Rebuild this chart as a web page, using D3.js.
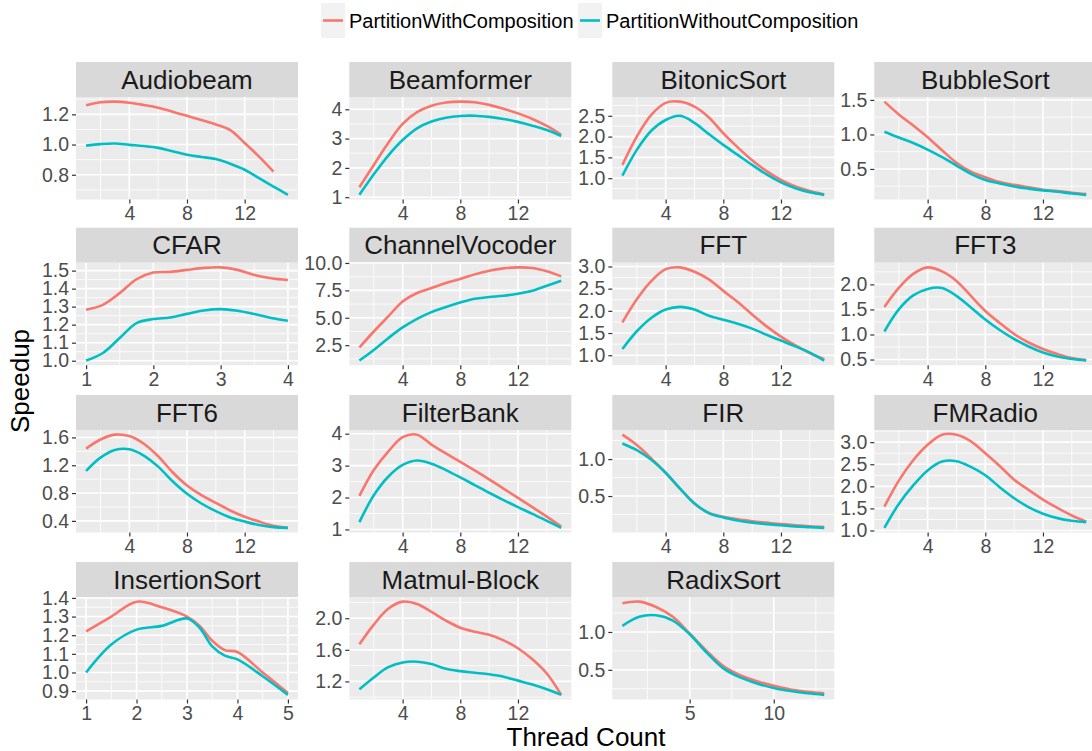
<!DOCTYPE html>
<html><head><meta charset="utf-8">
<script src="https://cdn.jsdelivr.net/npm/d3@7"></script>
<style>body{margin:0;background:#fff} text{font-family:"Liberation Sans",Arial,sans-serif}</style>
</head><body><svg id="c" width="1092" height="751"></svg>
<script>
// ---------- data ----------
const seriesNames = ["PartitionWithComposition", "PartitionWithoutComposition"];
const seriesColors = ["#F8766D", "#00BFC4"];

const t15 = [1,2,3,4,5,6,7,8,9,10,11,12,13,14,15];
const t13 = [1,2,3,4,5,6,7,8,9,10,11,12,13];
const tCFAR = [1,1.25,1.5,1.75,2,2.25,2.5,2.75,3,3.25,3.5,3.75,4];
const tInsertion = [1,1.5,2,2.5,3,3.25,3.5,3.75,4,4.5,5];

const xTicks15 = [4,8,12];
const xTicksCFAR = [1,2,3,4];
const xTicksInsertion = [1,2,3,4,5];
const xTicksRadix = [5,10];

const audiobeamWith    = [1.26,1.28,1.284,1.277,1.262,1.244,1.218,1.19,1.162,1.133,1.095,1.01,0.92,0.82];
const audiobeamWithout = [0.993,1.003,1.007,0.998,0.99,0.978,0.955,0.933,0.918,0.904,0.873,0.833,0.777,0.722,0.667];
const audiobeamYTicks  = [0.8,1.0,1.2];

const beamformerWith    = [1.34,2.1,2.85,3.5,3.9,4.12,4.23,4.26,4.24,4.15,4.02,3.86,3.67,3.43,3.13];
const beamformerWithout = [1.08,1.78,2.42,2.95,3.35,3.58,3.71,3.77,3.78,3.74,3.67,3.57,3.44,3.29,3.09];
const beamformerYTicks  = [1,2,3,4];

const bitonicWith    = [1.32,2.0,2.52,2.81,2.84,2.72,2.46,2.08,1.74,1.43,1.17,0.96,0.8,0.69,0.61];
const bitonicWithout = [1.06,1.68,2.14,2.4,2.5,2.33,2.06,1.8,1.56,1.32,1.09,0.9,0.76,0.66,0.6];
const bitonicYTicks  = [1.0,1.5,2.0,2.5];

const bubbleWith    = [1.475,1.29,1.13,0.96,0.77,0.59,0.46,0.38,0.31,0.27,0.235,0.2,0.18,0.155,0.135];
const bubbleWithout = [1.04,0.955,0.875,0.78,0.67,0.55,0.43,0.34,0.29,0.245,0.215,0.19,0.17,0.145,0.125];
const bubbleYTicks  = [0.5,1.0,1.5];

const cfarWith    = [1.283,1.31,1.375,1.452,1.489,1.493,1.504,1.515,1.518,1.504,1.476,1.458,1.448];
const cfarWithout = [1.001,1.043,1.126,1.209,1.231,1.24,1.26,1.279,1.286,1.277,1.259,1.237,1.222];
const cfarYTicks  = [1.0,1.1,1.2,1.3,1.4,1.5];

const vocoderWith    = [2.29,3.75,5.12,6.49,7.26,7.71,8.17,8.54,8.96,9.3,9.51,9.6,9.54,9.24,8.78];
const vocoderWithout = [1.1,2.07,3.14,4.12,4.91,5.52,5.98,6.4,6.74,6.89,7.01,7.2,7.47,7.93,8.38];
const vocoderYTicks  = [2.5,5.0,7.5,10.0];

const fftWith    = [1.74,2.26,2.67,2.94,2.98,2.88,2.71,2.45,2.2,1.92,1.65,1.42,1.22,1.05,0.91];
const fftWithout = [1.14,1.54,1.84,2.03,2.09,2.03,1.89,1.8,1.71,1.6,1.46,1.33,1.2,1.06,0.88];
const fftYTicks  = [1.0,1.5,2.0,2.5,3.0];

const fft3With    = [1.55,1.93,2.21,2.34,2.26,2.07,1.77,1.47,1.23,1.01,0.84,0.71,0.61,0.53,0.49];
const fft3Without = [1.06,1.5,1.78,1.91,1.93,1.77,1.54,1.3,1.09,0.91,0.76,0.64,0.56,0.51,0.48];
const fft3YTicks  = [0.5,1.0,1.5,2.0];

const fft6With    = [1.44,1.57,1.64,1.62,1.51,1.33,1.1,0.91,0.77,0.66,0.55,0.46,0.39,0.33,0.3];
const fft6Without = [1.12,1.31,1.42,1.43,1.34,1.18,0.97,0.79,0.65,0.54,0.45,0.39,0.34,0.31,0.3];
const fft6YTicks  = [0.4,0.8,1.2,1.6];

const filterbankWith    = [2.05,2.86,3.44,3.89,3.97,3.66,3.38,3.12,2.85,2.57,2.28,1.99,1.7,1.4,1.09];
const filterbankWithout = [1.23,2.07,2.65,3.02,3.16,3.06,2.86,2.63,2.39,2.15,1.92,1.7,1.49,1.27,1.05];
const filterbankYTicks  = [1,2,3,4];

const firWith    = [1.33,1.19,1.01,0.815,0.6,0.4,0.27,0.22,0.185,0.16,0.14,0.12,0.105,0.09,0.08];
const firWithout = [1.21,1.12,0.99,0.815,0.6,0.4,0.27,0.21,0.17,0.14,0.12,0.105,0.09,0.08,0.07];
const firYTicks  = [0.5,1.0];

const fmradioWith    = [1.54,2.13,2.59,2.94,3.17,3.17,3.02,2.75,2.46,2.15,1.92,1.7,1.51,1.34,1.2];
const fmradioWithout = [1.06,1.6,2.02,2.36,2.56,2.57,2.44,2.25,1.98,1.73,1.53,1.38,1.28,1.22,1.19];
const fmradioYTicks  = [1.0,1.5,2.0,2.5,3.0];

const insertionWith    = [1.22,1.30,1.38,1.35,1.30,1.25,1.17,1.12,1.11,1.00,0.89];
const insertionWithout = [1.00,1.15,1.23,1.25,1.29,1.24,1.14,1.09,1.07,0.98,0.88];
const insertionYTicks  = [0.9,1.0,1.1,1.2,1.3,1.4];

const matmulWith    = [1.67,1.92,2.12,2.21,2.18,2.08,1.97,1.88,1.83,1.79,1.72,1.62,1.48,1.30,1.03];
const matmulWithout = [1.10,1.25,1.38,1.44,1.45,1.42,1.36,1.33,1.31,1.29,1.26,1.21,1.16,1.10,1.03];
const matmulYTicks  = [1.2,1.6,2.0];

const radixWith    = [1.38,1.40,1.33,1.20,0.98,0.75,0.55,0.43,0.35,0.29,0.24,0.21,0.19];
const radixWithout = [1.08,1.20,1.22,1.15,0.97,0.73,0.52,0.40,0.32,0.26,0.22,0.19,0.17];
const radixYTicks  = [0.5,1.0];

const panels = [
  {name:"Audiobeam", x:t15, s:[audiobeamWith,audiobeamWithout], yt:audiobeamYTicks, xt:xTicks15},
  {name:"Beamformer", x:t15, s:[beamformerWith,beamformerWithout], yt:beamformerYTicks, xt:xTicks15},
  {name:"BitonicSort", x:t15, s:[bitonicWith,bitonicWithout], yt:bitonicYTicks, xt:xTicks15},
  {name:"BubbleSort", x:t15, s:[bubbleWith,bubbleWithout], yt:bubbleYTicks, xt:xTicks15},
  {name:"CFAR", x:tCFAR, s:[cfarWith,cfarWithout], yt:cfarYTicks, xt:xTicksCFAR},
  {name:"ChannelVocoder", x:t15, s:[vocoderWith,vocoderWithout], yt:vocoderYTicks, xt:xTicks15},
  {name:"FFT", x:t15, s:[fftWith,fftWithout], yt:fftYTicks, xt:xTicks15},
  {name:"FFT3", x:t15, s:[fft3With,fft3Without], yt:fft3YTicks, xt:xTicks15},
  {name:"FFT6", x:t15, s:[fft6With,fft6Without], yt:fft6YTicks, xt:xTicks15},
  {name:"FilterBank", x:t15, s:[filterbankWith,filterbankWithout], yt:filterbankYTicks, xt:xTicks15},
  {name:"FIR", x:t15, s:[firWith,firWithout], yt:firYTicks, xt:xTicks15},
  {name:"FMRadio", x:t15, s:[fmradioWith,fmradioWithout], yt:fmradioYTicks, xt:xTicks15},
  {name:"InsertionSort", x:tInsertion, s:[insertionWith,insertionWithout], yt:insertionYTicks, xt:xTicksInsertion},
  {name:"Matmul-Block", x:t15, s:[matmulWith,matmulWithout], yt:matmulYTicks, xt:xTicks15},
  {name:"RadixSort", x:t13, s:[radixWith,radixWithout], yt:radixYTicks, xt:xTicksRadix}
];

// ---------- layout ----------
const colLeft = [76, 349.3, 612.3, 874.3];
const rowTop = [62, 227.7, 395, 562];
const panelW = 222, stripH = 35, panelH = 102.5;
const FONT_TICK = 19.5, FONT_STRIP = 26, FONT_TITLE = 26, FONT_LEG = 20;

const svg = d3.select("#c");
svg.append("rect").attr("width",1092).attr("height",751).attr("fill","#fff");

function minors(majors, dom){
  const out = [];
  const step = majors.length>1 ? majors[1]-majors[0] : 1;
  const cand = [majors[0]-step/2];
  for (let i=0;i<majors.length-1;i++) cand.push((majors[i]+majors[i+1])/2);
  cand.push(majors[majors.length-1]+step/2);
  cand.forEach(c => { if (c>=dom[0] && c<=dom[1]) out.push(c); });
  return out;
}
function ytickFmt(ticks){
  const anyDec = ticks.some(t => !Number.isInteger(t));
  const dec = anyDec ? d3.max(ticks, t => { const s=t.toString(); return s.includes(".")? s.split(".")[1].length:1; }) : 0;
  return t => t.toFixed(dec);
}

panels.forEach((p, i) => {
  const col = i % 4, row = Math.floor(i / 4);
  const L = colLeft[col], T = rowTop[row] + stripH;
  const g = svg.append("g");

  const allX = [], allY = [];
  p.s.forEach(vals => vals.forEach((v, k) => { allX.push(p.x[k]); allY.push(v); }));
  const [x0, x1] = d3.extent(allX), [y0, y1] = d3.extent(allY);
  const xr = x1 - x0, yr = y1 - y0;
  const xDom = [x0 - 0.05*xr, x1 + 0.05*xr], yDom = [y0 - 0.05*yr, y1 + 0.05*yr];
  const xs = d3.scaleLinear().domain(xDom).range([L, L + panelW]);
  const ys = d3.scaleLinear().domain(yDom).range([T + panelH, T]);

  // strip
  g.append("rect").attr("x", L).attr("y", rowTop[row]).attr("width", panelW).attr("height", stripH).attr("fill", "#D9D9D9");
  g.append("text").attr("x", L + panelW/2).attr("y", rowTop[row] + stripH/2).attr("dy", "0.35em")
    .attr("text-anchor", "middle").attr("font-size", FONT_STRIP).attr("fill", "#1A1A1A").text(p.name);

  // panel bg
  g.append("rect").attr("x", L).attr("y", T).attr("width", panelW).attr("height", panelH).attr("fill", "#EBEBEB");

  const yt = p.yt.filter(t => t >= yDom[0] && t <= yDom[1]);
  const xt = p.xt.filter(t => t >= xDom[0] && t <= xDom[1]);
  minors(yt, yDom).forEach(v => g.append("line").attr("x1", L).attr("x2", L+panelW).attr("y1", ys(v)).attr("y2", ys(v)).attr("stroke", "#fff").attr("stroke-width", 0.8));
  minors(xt, xDom).forEach(v => g.append("line").attr("y1", T).attr("y2", T+panelH).attr("x1", xs(v)).attr("x2", xs(v)).attr("stroke", "#fff").attr("stroke-width", 0.8));
  yt.forEach(v => g.append("line").attr("x1", L).attr("x2", L+panelW).attr("y1", ys(v)).attr("y2", ys(v)).attr("stroke", "#fff").attr("stroke-width", 1.6));
  xt.forEach(v => g.append("line").attr("y1", T).attr("y2", T+panelH).attr("x1", xs(v)).attr("x2", xs(v)).attr("stroke", "#fff").attr("stroke-width", 1.6));

  const yAxis = d3.axisLeft(ys).tickValues(yt).tickSize(4).tickPadding(3).tickFormat(ytickFmt(p.yt));
  const ga = g.append("g").attr("transform", `translate(${L},0)`).call(yAxis);
  const xAxis = d3.axisBottom(xs).tickValues(xt).tickSize(4).tickPadding(3).tickFormat(d3.format("d"));
  const gx = g.append("g").attr("transform", `translate(0,${T+panelH})`).call(xAxis);
  [ga, gx].forEach(a => {
    a.select(".domain").remove();
    a.selectAll(".tick line").attr("stroke", "#333333").attr("stroke-width", 1.2);
    a.selectAll(".tick text").attr("fill", "#4D4D4D").attr("font-size", FONT_TICK)
      .attr("font-family", '"Liberation Sans",Arial,sans-serif');
  });

  const clipId = "clip" + i;
  g.append("clipPath").attr("id", clipId).append("rect").attr("x", L).attr("y", T).attr("width", panelW).attr("height", panelH);
  p.s.forEach((vals, si) => {
    const pts = vals.map((v, k) => [p.x[k], v]);
    g.append("path").attr("clip-path", `url(#${clipId})`)
      .attr("d", d3.line().x(d => xs(d[0])).y(d => ys(d[1])).curve(d3.curveCatmullRom.alpha(0.5))(pts))
      .attr("fill", "none").attr("stroke", seriesColors[si]).attr("stroke-width", 2.6);
  });
});

// axis titles
svg.append("text").attr("x", 586).attr("y", 746).attr("text-anchor", "middle")
  .attr("font-size", FONT_TITLE).attr("fill", "#000").text("Thread Count");
svg.append("text").attr("transform", "translate(29,381) rotate(-90)").attr("text-anchor", "middle")
  .attr("font-size", FONT_TITLE).attr("fill", "#000").text("Speedup");

// legend
const legX = [321, 578];
seriesNames.forEach((n, i) => {
  const lg = svg.append("g");
  lg.append("rect").attr("x", legX[i]).attr("y", 3).attr("width", 24).attr("height", 35).attr("fill", "#F2F2F2");
  lg.append("line").attr("x1", legX[i]+2).attr("x2", legX[i]+22).attr("y1", 20.5).attr("y2", 20.5)
    .attr("stroke", seriesColors[i]).attr("stroke-width", 2.6);
  lg.append("text").attr("x", legX[i]+28).attr("y", 20.5).attr("dy", "0.35em")
    .attr("font-size", FONT_LEG).attr("fill", "#000").text(n);
});
</script></body></html>
